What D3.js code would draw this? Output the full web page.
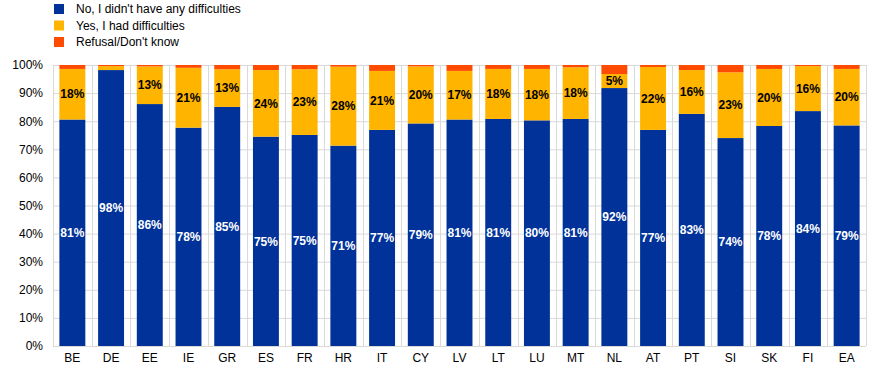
<!DOCTYPE html>
<html>
<head>
<meta charset="utf-8">
<script src="https://cdn.jsdelivr.net/npm/d3@7"></script>
<style>
  body { margin: 0; background: #fff; }
  svg { font-family: "Liberation Sans", Arial, sans-serif; }
</style>
</head>
<body>
<svg id="chart" width="874" height="373"></svg>
<script>
var countries = ["BE", "DE", "EE", "IE", "GR", "ES", "FR", "HR", "IT", "CY", "LV",
                 "LT", "LU", "MT", "NL", "AT", "PT", "SI", "SK", "FI", "EA"];
var noDifficulties = [80.6, 98.2, 86.1, 77.7, 85.1, 74.5, 75.1, 71.3, 76.9, 79.2, 80.6,
                      80.8, 80.3, 80.8, 91.8, 76.9, 82.6, 74.0, 78.3, 83.6, 78.5];
var hadDifficulties = [18.0, 1.4, 13.4, 21.3, 13.4, 23.7, 23.4, 28.1, 21.0, 20.3, 17.3,
                       17.8, 18.3, 18.4, 5.0, 22.4, 15.6, 23.4, 20.3, 16.0, 20.1];
var refusal = [1.4, 0.4, 0.5, 1.0, 1.5, 1.8, 1.5, 0.6, 2.1, 0.5, 2.1,
               1.4, 1.4, 0.8, 3.2, 0.7, 1.8, 2.6, 1.4, 0.4, 1.4];
var seriesNames = ["No, I didn't have any difficulties", "Yes, I had difficulties", "Refusal/Don't know"];
var seriesKeys = ["no", "yes", "ref"];
var yTicks = [0, 10, 20, 30, 40, 50, 60, 70, 80, 90, 100];

var margin = {top: 65, right: 8, bottom: 27, left: 53};
var width = 874 - margin.left - margin.right;
var height = 373 - margin.top - margin.bottom;

var svg = d3.select("#chart")
  .append("g")
    .attr("transform", "translate(" + margin.left + "," + margin.top + ")");

var data = countries.map(function(c, i) {
  return {country: c, no: noDifficulties[i], yes: hadDifficulties[i], ref: refusal[i]};
});

var x = d3.scaleBand()
  .domain(countries)
  .range([0, width])
  .paddingInner(0.33)
  .paddingOuter(0.165);

var y = d3.scaleLinear()
  .domain([0, 100])
  .range([height, 0]);

var z = d3.scaleOrdinal()
  .domain(seriesKeys)
  .range(["#003299", "#FFB400", "#FF4B00"]);

// gridlines
var step = width / countries.length;
svg.append("g")
  .selectAll("line")
  .data(yTicks)
  .enter().append("line")
    .attr("x1", 0).attr("x2", width)
    .attr("y1", function(d) { return y(d) + 0.5; })
    .attr("y2", function(d) { return y(d) + 0.5; })
    .attr("stroke", "#d9d9d9");

svg.append("g")
  .selectAll("line")
  .data(d3.range(countries.length + 1))
  .enter().append("line")
    .attr("x1", function(d) { return Math.round(d * step) + 0.5; })
    .attr("x2", function(d) { return Math.round(d * step) + 0.5; })
    .attr("y1", 0).attr("y2", height)
    .attr("stroke", "#d9d9d9");

// bars
svg.append("g")
  .selectAll("g")
  .data(d3.stack().keys(seriesKeys)(data))
  .enter().append("g")
    .attr("fill", function(d) { return z(d.key); })
  .selectAll("rect")
  .data(function(d) { return d; })
  .enter().append("rect")
    .attr("x", function(d) { return x(d.data.country); })
    .attr("y", function(d) { return y(d[1]); })
    .attr("height", function(d) { return y(d[0]) - y(d[1]); })
    .attr("width", x.bandwidth());

// axes
svg.append("g")
    .attr("class", "y axis")
    .call(d3.axisLeft(y).tickValues(yTicks).tickFormat(function(d) { return d + "%"; }).tickSize(0).tickPadding(10))
    .call(function(g) { g.select(".domain").remove(); })
    .selectAll("text")
      .attr("font-size", "12px")
      .attr("font-family", "Liberation Sans, Arial, sans-serif")
      .attr("fill", "#000");

svg.append("g")
    .attr("class", "x axis")
    .attr("transform", "translate(0," + height + ")")
    .call(d3.axisBottom(x).tickSize(0).tickPadding(7))
    .call(function(g) { g.select(".domain").remove(); })
    .selectAll("text")
      .attr("font-size", "12px")
      .attr("font-family", "Liberation Sans, Arial, sans-serif")
      .attr("fill", "#000");

// value labels
var labels = svg.append("g")
  .attr("font-size", "12px")
  .attr("font-weight", "bold")
  .attr("text-anchor", "middle");

labels.selectAll(".no-label")
  .data(data)
  .enter().append("text")
    .attr("class", "no-label")
    .attr("fill", "#fff")
    .attr("x", function(d) { return x(d.country) + x.bandwidth() / 2; })
    .attr("y", function(d) { return y(d.no / 2); })
    .attr("dy", "0.35em")
    .text(function(d) { return Math.round(d.no) + "%"; });

labels.selectAll(".yes-label")
  .data(data.filter(function(d) { return d.yes >= 3; }))
  .enter().append("text")
    .attr("class", "yes-label")
    .attr("fill", "#000")
    .attr("x", function(d) { return x(d.country) + x.bandwidth() / 2; })
    .attr("y", function(d) { return y(d.no + d.yes / 2); })
    .attr("dy", "0.35em")
    .text(function(d) { return Math.round(d.yes) + "%"; });

// legend
var legend = d3.select("#chart").append("g")
    .attr("font-size", "12px")
  .selectAll("g")
  .data(seriesKeys)
  .enter().append("g")
    .attr("transform", function(d, i) { return "translate(54," + (4 + i * 16.5) + ")"; });

legend.append("rect")
    .attr("width", 10)
    .attr("height", 10)
    .attr("fill", z);

legend.append("text")
    .attr("x", 22)
    .attr("y", 5)
    .attr("dy", "0.35em")
    .attr("fill", "#000")
    .text(function(d, i) { return seriesNames[i]; });
</script>
</body>
</html>
